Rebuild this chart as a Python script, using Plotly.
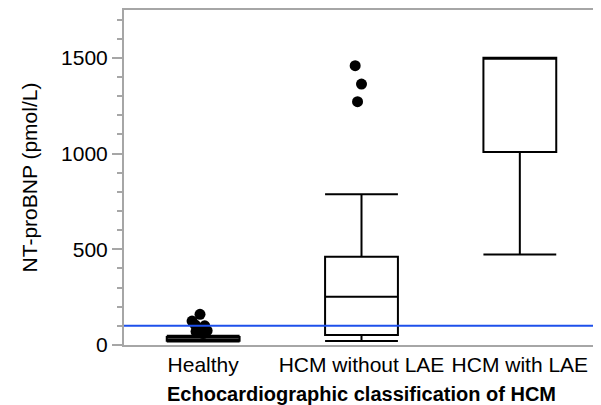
import plotly.graph_objects as go

categories = ["Healthy", "HCM without LAE", "HCM with LAE"]
q1 = [22, 52, 1008]
median = [30, 252, 1500]
q3 = [42, 461, 1500]
lower_fence = [18, 21, 473]
upper_fence = [48, 787, 1500]

# outliers per category (value, small horizontal jitter in category units)
healthy_out = [160, 125, 105, 100, 85, 75, 70, 60]
healthy_jit = [-0.02, -0.07, -0.05, 0.01, -0.02, 0.025, -0.045, 0.0]
hcm_out = [1459, 1363, 1271]
hcm_jit = [-0.04, 0.0, -0.025]

ref_limit = 100
y_ticks = [0, 500, 1000, 1500]

font_family = "Liberation Sans, Arial, sans-serif"

fig = go.Figure()
for i, cat in enumerate(categories):
    fig.add_trace(go.Box(
        x=[i], q1=[q1[i]], median=[median[i]], q3=[q3[i]],
        lowerfence=[lower_fence[i]], upperfence=[upper_fence[i]],
        width=0.46, whiskerwidth=1, boxpoints=False,
        line=dict(color="black", width=2), fillcolor="white",
        name=cat, showlegend=False, hoverinfo="skip",
    ))

fig.add_trace(go.Scatter(
    x=[0 + j for j in healthy_jit], y=healthy_out, mode="markers",
    marker=dict(color="black", size=11), showlegend=False))
fig.add_trace(go.Scatter(
    x=[1 + j for j in hcm_jit], y=hcm_out, mode="markers",
    marker=dict(color="black", size=11), showlegend=False))

fig.add_hline(y=ref_limit, line=dict(color="rgb(30,80,235)", width=2))

fig.update_layout(
    width=593, height=397,
    margin=dict(l=116, r=0, t=2, b=60),
    paper_bgcolor="white", plot_bgcolor="white",
    font=dict(family=font_family, size=21, color="black"),
    xaxis=dict(
        range=[-0.5, 2.5], tickvals=[0, 1, 2], ticktext=categories,
        showgrid=False, zeroline=False, ticks="",
        showline=True, linecolor="#a6a6a6", linewidth=2, mirror=True,
        tickfont=dict(size=21),
        title=dict(text="<b>Echocardiographic classification of HCM</b>",
                   font=dict(size=20), standoff=12),
    ),
    yaxis=dict(
        range=[0, 1750], tickvals=y_ticks, showgrid=False, zeroline=False,
        ticks="outside", ticklen=10, tickwidth=2, tickcolor="#a6a6a6",
        minor=dict(dtick=100, ticks="outside", ticklen=5, tickwidth=2,
                   tickcolor="#a6a6a6", showgrid=False),
        showline=True, linecolor="#a6a6a6", linewidth=2, mirror=True,
        tickfont=dict(size=21),
        title=dict(text="NT-proBNP (pmol/L)", font=dict(size=21), standoff=18),
    ),
)

fig.write_html("out.html")
